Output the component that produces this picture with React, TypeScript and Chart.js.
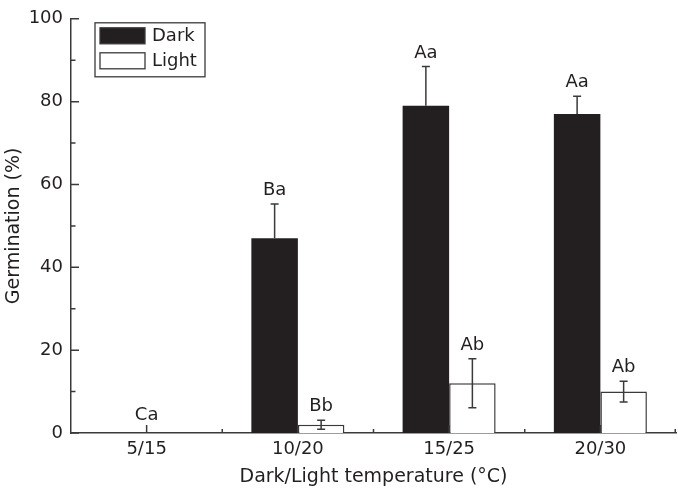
import React, { useEffect, useRef } from 'react';
import { Chart, registerables } from 'chart.js';

Chart.register(...registerables);

const categories = ['5/15', '10/20', '15/25', '20/30'];
const darkValues = [0, 47, 79, 77];
const darkErrors = [0, 8.3, 9.5, 4.3];
const lightValues = [0, 2, 12, 10];
const lightErrors = [0, 1.1, 5.9, 2.5];
const darkLetters = ['Ca', 'Ba', 'Aa', 'Aa'];
const lightLetters = ['', 'Bb', 'Ab', 'Ab'];
const yMajorTicks = [0, 20, 40, 60, 80, 100];
const yMinorTicks = [10, 30, 50, 70, 90];
const legendLabels = ['Dark', 'Light'];

const FONT = "'DejaVu Sans', 'Liberation Sans', sans-serif";
const INK = '#231f20';
const AXIS = '#3a3a3a';

const overlay = {
  id: 'overlay',
  afterDatasetsDraw(chart: any) {
    const ctx = chart.ctx;
    const xs = chart.scales.x;
    const ys = chart.scales.y;
    const area = chart.chartArea;
    ctx.save();

    // error bars and letters
    const sets = [
      { vals: darkValues, errs: darkErrors, letters: darkLetters, meta: chart.getDatasetMeta(0), upperOnly: true },
      { vals: lightValues, errs: lightErrors, letters: lightLetters, meta: chart.getDatasetMeta(1), upperOnly: false },
    ];
    ctx.strokeStyle = AXIS;
    ctx.lineWidth = 1.5;
    sets.forEach((s) => {
      s.meta.data.forEach((bar: any, i: number) => {
        const v = s.vals[i];
        const e = s.errs[i];
        const cx = bar.x;
        let topPx = ys.getPixelForValue(v);
        if (e > 0) {
          const t = ys.getPixelForValue(v + e);
          const b = s.upperOnly ? ys.getPixelForValue(v) : ys.getPixelForValue(v - e);
          ctx.beginPath();
          ctx.moveTo(cx, t);
          ctx.lineTo(cx, b);
          ctx.moveTo(cx - 4, t);
          ctx.lineTo(cx + 4, t);
          if (!s.upperOnly) {
            ctx.moveTo(cx - 4, b);
            ctx.lineTo(cx + 4, b);
          }
          ctx.stroke();
          topPx = t;
        }
        const txt = s.letters[i];
        if (txt) {
          ctx.fillStyle = INK;
          ctx.font = `18px ${FONT}`;
          ctx.textAlign = 'center';
          ctx.textBaseline = 'middle';
          const bothZero = darkValues[i] === 0 && lightValues[i] === 0;
          if (bothZero) {
            ctx.fillText(txt, xs.getPixelForValue(i), ys.getPixelForValue(0) - 18);
          } else {
            ctx.fillText(txt, cx, topPx - 13.5);
          }
        }
      });
    });

    // inward ticks
    ctx.strokeStyle = AXIS;
    ctx.lineWidth = 1.5;
    ctx.beginPath();
    yMajorTicks.forEach((t) => {
      const py = ys.getPixelForValue(t);
      ctx.moveTo(area.left, py);
      ctx.lineTo(area.left + 8, py);
    });
    yMinorTicks.forEach((t) => {
      const py = ys.getPixelForValue(t);
      ctx.moveTo(area.left, py);
      ctx.lineTo(area.left + 4.5, py);
    });
    categories.forEach((_, i) => {
      const px = xs.getPixelForValue(i);
      ctx.moveTo(px, area.bottom);
      ctx.lineTo(px, area.bottom - 8);
      const next = i < categories.length - 1 ? (xs.getPixelForValue(i) + xs.getPixelForValue(i + 1)) / 2 : area.right - 0.75;
      ctx.moveTo(next, area.bottom);
      ctx.lineTo(next, area.bottom - 4);
    });
    ctx.stroke();

    // legend
    const lx = area.left + 24;
    const ly = area.top + 4;
    ctx.lineWidth = 1.3;
    ctx.strokeStyle = AXIS;
    ctx.strokeRect(lx, ly, 110, 54);
    const fills = [INK, '#ffffff'];
    legendLabels.forEach((lab, k) => {
      const sy = ly + 5 + k * 25;
      ctx.fillStyle = fills[k];
      ctx.fillRect(lx + 5, sy, 45, 16);
      ctx.strokeStyle = AXIS;
      ctx.lineWidth = 1.3;
      ctx.strokeRect(lx + 5, sy, 45, 16);
      ctx.fillStyle = INK;
      ctx.font = `18px ${FONT}`;
      ctx.textAlign = 'left';
      ctx.textBaseline = 'middle';
      ctx.fillText(lab, lx + 57, sy + 8.5);
    });
    ctx.restore();
  },
};

export default function App() {
  const ref = useRef<HTMLCanvasElement | null>(null);

  useEffect(() => {
    document.body.style.margin = '0';
    const canvas = ref.current;
    if (!canvas) return;
    const chart = new Chart(canvas, {
      type: 'bar',
      data: {
        labels: categories,
        datasets: [
          {
            label: 'Dark',
            data: darkValues,
            backgroundColor: INK,
            borderWidth: 0,
          },
          {
            label: 'Light',
            data: lightValues,
            backgroundColor: '#ffffff',
            borderColor: AXIS,
            borderWidth: 1.5,
            borderSkipped: 'bottom',
          },
        ],
      },
      options: {
        animation: false,
        responsive: false,
        maintainAspectRatio: false,
        devicePixelRatio: 1,
        categoryPercentage: 0.615,
        barPercentage: 1,
        layout: { padding: { top: 13, right: 2, left: 0, bottom: 0 } },
        plugins: {
          legend: { display: false },
          tooltip: { enabled: false },
        },
        scales: {
          x: {
            z: 1,
            grid: { display: false, drawTicks: false },
            border: { display: true, color: AXIS, width: 1.5 },
            ticks: { color: INK, font: { family: FONT, size: 18 }, padding: 6 },
            title: {
              display: true,
              text: 'Dark/Light temperature (°C)',
              color: INK,
              font: { family: FONT, size: 19 },
              padding: { top: 0, bottom: 2 },
            },
            afterFit: (s: any) => {
              s.height = 57;
            },
          },
          y: {
            z: 1,
            min: 0,
            max: 100,
            grid: { display: false, drawTicks: false },
            border: { display: true, color: AXIS, width: 1.5 },
            ticks: { stepSize: 20, color: INK, font: { family: FONT, size: 18 }, padding: 8 },
            title: {
              display: true,
              text: 'Germination (%)',
              color: INK,
              font: { family: FONT, size: 19 },
              padding: { top: 3, bottom: 0 },
            },
            afterFit: (s: any) => {
              s.width = 71;
            },
          },
        },
      },
      plugins: [overlay],
    });
    return () => chart.destroy();
  }, []);

  return (
    <div style={{ width: 678, height: 490, background: '#fff' }}>
      <canvas ref={ref} width={678} height={490} style={{ display: 'block', width: 678, height: 490 }} />
    </div>
  );
}
